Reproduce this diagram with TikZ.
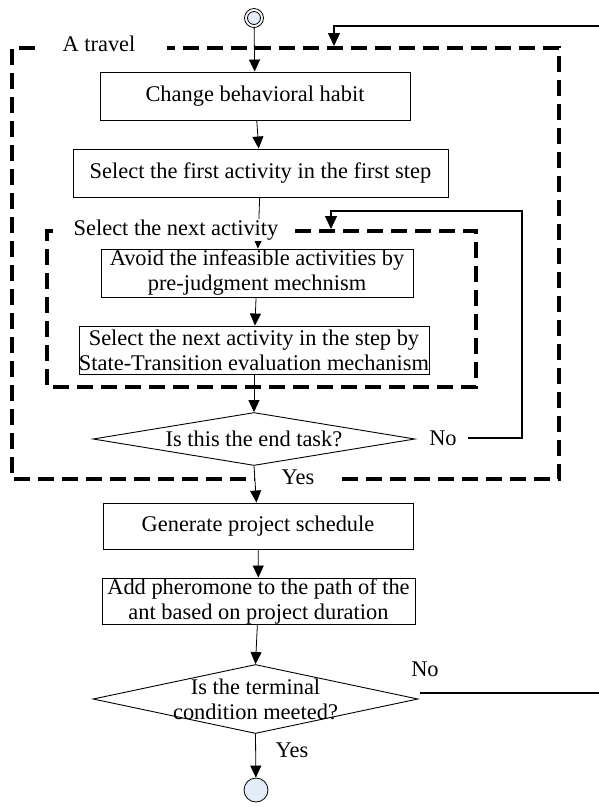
\documentclass[tikz,border=0pt]{standalone}
\usepackage{fontspec}
\setmainfont{Liberation Serif}
\usetikzlibrary{arrows.meta,shapes.geometric}
\definecolor{startfill}{RGB}{228,236,248}
\begin{document}
\begin{tikzpicture}[x=1pt,y=-1pt,
  font=\fontsize{22.4}{25}\selectfont,
  box/.style={draw, line width=0.9pt, inner sep=0pt, align=center},
  dia/.style={diamond, draw, line width=0.9pt, inner sep=0pt},
  conn/.style={line width=0.8pt, -{Triangle[length=12pt,width=11pt]}},
  fb/.style={line width=1.3pt, -{Triangle[length=13pt,width=12pt]}},
  dbox/.style={line width=3.4pt, dash pattern=on 16pt off 8pt},
  lbl/.style={inner sep=1pt}]
\useasboundingbox (0,0) rectangle (598,807);

% start and end
\node[circle, draw, line width=0.8pt, fill=white, minimum size=19pt, inner sep=0pt] (start) at (254,18) {};
\node[circle, draw, line width=0.8pt, fill=startfill, minimum size=13pt, inner sep=0pt] (startin) at (254,18) {};
\node[circle, draw, line width=0.8pt, fill=startfill, minimum size=24pt, inner sep=0pt] (end) at (256,790) {};

% boxes
\node[box, minimum width=310pt, minimum height=48pt] (b1) at (255,96) {Change behavioral habit};
\node[box, minimum width=375pt, minimum height=48pt] (b2) at (260.5,173) {Select the first activity in the first step};
\node[box, minimum width=312pt, minimum height=48pt] (b3) at (257,273) {Avoid the infeasible activities by\\pre-judgment mechnism};
\node[box, minimum width=350pt, minimum height=48pt] (b4) at (254,350) {Select the next activity in the step by\\State-Transition evaluation mechanism};
\node[dia, minimum width=322pt, minimum height=53pt] (d1) at (254,439) {};
\node[lbl] (d1t) at (254,439) {Is this the end task?};
\node[box, minimum width=310pt, minimum height=46pt] (b5) at (258,526) {Generate project schedule};
\node[box, minimum width=313pt, minimum height=46pt] (b6) at (258.5,601) {Add pheromone to the path of the\\ant based on project duration};
\node[dia, minimum width=325pt, minimum height=69pt] (d2) at (255.5,699) {};
\node[lbl, align=center] (d2t) at (255.5,699) {Is the terminal\\condition meeted?};

% dashed group frames
\draw[dbox] (35,48) -- (12,48) -- (12,479) -- (255,479);
\draw[dbox] (342,479) -- (559,479) -- (559,48) -- (167,48);
\draw[dbox] (53,231) -- (47,231) -- (47,387) -- (476,387) -- (476,231) -- (290,231);
\node[lbl] (ltravel) at (99,44) {A travel};

% main connectors
\draw[conn] (start) -- (b1);
\draw[conn] (b1) -- (b2);
\draw[conn] (b2) -- (b3);
\node[lbl, fill=white] (lnext) at (176,230) {Select the next activity};
\draw[conn] (b3) -- (b4);
\draw[conn] (b4) -- (d1.north);
\draw[conn] (d1.south) -- (b5);
\draw[conn] (b5) -- (b6);
\draw[conn] (b6) -- (d2.north);
\draw[conn] (d2.south) -- (end);

% labels
\node[lbl] (yes1) at (298,477) {Yes};
\node[lbl] (yes2) at (292,750) {Yes};
\node[lbl] (no1) at (443,438) {No};
\node[lbl] (no2) at (425,669) {No};

% feedback loops
\coordinate (innertop) at (331,229);
\coordinate (outertop) at (334,46);
\coordinate (f1s) at (468,438);
\coordinate (f2s) at (420,693);
\draw[fb] (f1s) -- (522,438) -- (522,211) -- (331,211) -- (innertop);
\draw[fb] (f2s) -- (603,693) -- (603,26) -- (334,26) -- (outertop);
\end{tikzpicture}
\end{document}
